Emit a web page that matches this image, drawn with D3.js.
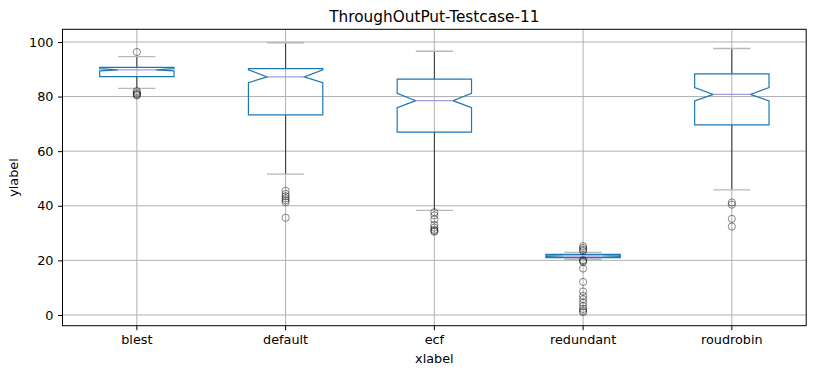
<!DOCTYPE html>
<html>
<head>
<meta charset="utf-8">
<script src="https://cdn.jsdelivr.net/npm/d3@7"></script>
<style>
    body { margin: 0; background: #fff; }
    svg { display: block; font-family: 'DejaVu Sans', sans-serif; }
</style>
</head>
<body>
<svg id="chart" width="816" height="376"></svg>
<script>
const categories = ['blest', 'default', 'ecf', 'redundant', 'roudrobin']
const q1Values = [87.3, 73.3, 67.0, 21.0, 69.6]
const medianValues = [89.8, 87.2, 78.5, 21.6, 80.8]
const q3Values = [90.7, 90.2, 86.4, 22.2, 88.3]
const notchLow = [89.4, 85.1, 75.9, 21.45, 78.4]
const notchHigh = [90.2, 89.8, 81.2, 21.75, 83.3]
const whiskerLow = [83.0, 51.6, 38.3, 20.4, 45.8]
const whiskerHigh = [94.6, 99.7, 96.6, 22.9, 97.6]
const fliers = [
    [96.3, 82.0, 81.5, 81.0, 80.7, 80.4],
    [45.5, 44.3, 43.5, 42.7, 42.0, 41.3, 35.6],
    [37.6, 36.5, 35.0, 33.0, 32.0, 31.2, 30.8, 30.5],
    [25.2, 24.5, 23.9, 23.4, 20.1, 19.8, 19.4, 17.0, 12.1, 8.6, 7.0, 5.8, 4.5, 3.2, 2.2, 1.5, 1.0],
    [41.2, 40.4, 35.2, 32.4]
]
const yTicks = [0, 20, 40, 60, 80, 100]

const width = 816, height = 376
const margin = { top: 29.3, right: 9.8, bottom: 50.3, left: 62.5 }
const innerW = width - margin.left - margin.right
const innerH = height - margin.top - margin.bottom

// y range padded 5% like matplotlib
const allLow = d3.min([...whiskerLow, ...fliers.flat()])
const allHigh = d3.max([...whiskerHigh, ...fliers.flat()])
const pad = (allHigh - allLow) * 0.05

const x = d3.scaleBand().domain(categories).range([0, innerW]).padding(0)
const y = d3.scaleLinear().domain([allLow - pad, allHigh + pad]).range([innerH, 0])

const svg = d3.select('#chart')
const g = svg.append('g').attr('transform', `translate(${margin.left},${margin.top})`)

const boxW = x.bandwidth() * 0.5
const cx = c => x(c) + x.bandwidth() / 2

// grid
g.append('g').selectAll('line').data(yTicks).join('line')
    .attr('x1', 0).attr('x2', innerW)
    .attr('y1', d => y(d)).attr('y2', d => y(d))
    .attr('stroke', '#b0b0b0').attr('stroke-width', 1)
g.append('g').selectAll('line').data(categories).join('line')
    .attr('x1', d => cx(d)).attr('x2', d => cx(d))
    .attr('y1', 0).attr('y2', innerH)
    .attr('stroke', '#b0b0b0').attr('stroke-width', 1)

const stats = categories.map((c, i) => ({
    name: c,
    q1: q1Values[i], med: medianValues[i], q3: q3Values[i],
    cilo: notchLow[i], cihi: notchHigh[i],
    lo: whiskerLow[i], hi: whiskerHigh[i],
    fliers: fliers[i]
}))

const groups = g.append('g').selectAll('g').data(stats).join('g')

// whiskers
groups.append('line')
    .attr('x1', d => cx(d.name)).attr('x2', d => cx(d.name))
    .attr('y1', d => y(d.q1)).attr('y2', d => y(d.lo))
    .attr('stroke', '#000').attr('stroke-opacity', 0.75).attr('stroke-width', 1)
groups.append('line')
    .attr('x1', d => cx(d.name)).attr('x2', d => cx(d.name))
    .attr('y1', d => y(d.q3)).attr('y2', d => y(d.hi))
    .attr('stroke', '#000').attr('stroke-opacity', 0.75).attr('stroke-width', 1)

// caps
groups.selectAll('.cap').data(d => [d.lo, d.hi].map(v => ({ name: d.name, v }))).join('line')
    .attr('class', 'cap')
    .attr('x1', d => cx(d.name) - boxW / 4).attr('x2', d => cx(d.name) + boxW / 4)
    .attr('y1', d => y(d.v)).attr('y2', d => y(d.v))
    .attr('stroke', '#b8b8b8').attr('stroke-width', 1.3)

// notched boxes
function boxPath (d) {
    const c = cx(d.name), L = c - boxW / 2, R = c + boxW / 2
    const nL = c - boxW / 4, nR = c + boxW / 4
    const pts = [
        [L, d.q1], [R, d.q1], [R, d.cilo], [nR, d.med], [R, d.cihi], [R, d.q3],
        [L, d.q3], [L, d.cihi], [nL, d.med], [L, d.cilo], [L, d.q1]
    ]
    return d3.line().x(p => p[0]).y(p => y(p[1]))(pts) + 'Z'
}
groups.append('path')
    .attr('d', boxPath)
    .attr('fill', 'none')
    .attr('stroke', '#1f77b4').attr('stroke-width', 1.2)
    .attr('stroke-linejoin', 'miter')

// medians
groups.append('line')
    .attr('x1', d => cx(d.name) - boxW / 4).attr('x2', d => cx(d.name) + boxW / 4)
    .attr('y1', d => y(d.med)).attr('y2', d => y(d.med))
    .attr('stroke', '#a29ddd').attr('stroke-width', 1.3)

// fliers
groups.selectAll('circle').data(d => d.fliers.map(v => ({ name: d.name, v }))).join('circle')
    .attr('cx', d => cx(d.name)).attr('cy', d => y(d.v))
    .attr('r', 3.6)
    .attr('fill', 'none')
    .attr('stroke', '#000').attr('stroke-opacity', 0.45).attr('stroke-width', 1)

// frame
g.append('rect')
    .attr('width', innerW).attr('height', innerH)
    .attr('fill', 'none').attr('stroke', '#000').attr('stroke-width', 1)

// axes
const yAxis = g.append('g')
    .call(d3.axisLeft(y).tickValues(yTicks).tickSize(4.5).tickPadding(4.5))
const xAxis = g.append('g')
    .attr('transform', `translate(0,${innerH})`)
    .call(d3.axisBottom(x).tickSize(4.5).tickPadding(4.5))
;[yAxis, xAxis].forEach(a => {
    a.select('.domain').remove()
    a.selectAll('.tick line').attr('stroke', '#000').attr('stroke-width', 1)
    a.selectAll('.tick text')
        .attr('fill', '#000')
        .style('font-family', "'DejaVu Sans', sans-serif")
        .style('font-size', '12.8px')
})

// labels
svg.append('text')
    .attr('x', margin.left + innerW / 2).attr('y', 21.6)
    .attr('text-anchor', 'middle')
    .style('font-size', '15.3px')
    .text('ThroughOutPut-Testcase-11')
svg.append('text')
    .attr('x', margin.left + innerW / 2).attr('y', 363)
    .attr('text-anchor', 'middle')
    .style('font-size', '12.8px')
    .text('xlabel')
svg.append('text')
    .attr('transform', `translate(17.5,${margin.top + innerH / 2}) rotate(-90)`)
    .attr('text-anchor', 'middle')
    .style('font-size', '12.8px')
    .text('ylabel')
</script>
</body>
</html>
